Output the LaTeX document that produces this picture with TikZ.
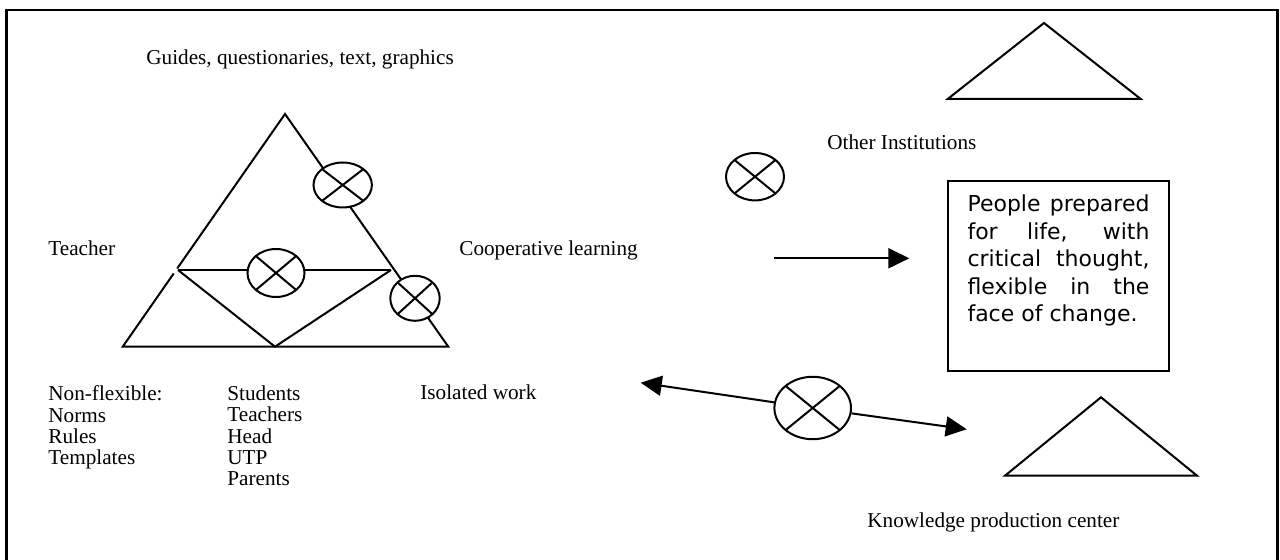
\documentclass[tikz,border=0pt]{standalone}
\usepackage{fontspec}
\setmainfont{Liberation Serif}
\newfontfamily\boxfont{DejaVu Sans}
\usetikzlibrary{arrows.meta,shapes.geometric}
\begin{document}
\begin{tikzpicture}[x=0.5pt,y=-0.5pt,
  lbl/.style={font=\fontsize{10.6}{10.75}\selectfont, inner sep=0pt, anchor=base west},
  lst/.style={font=\fontsize{10.6}{10.6}\selectfont, inner sep=0pt, anchor=north west, align=left},
  shapeline/.style={line width=1pt, line join=miter},
  xcirc/.style={ellipse, draw, fill=white, inner sep=0pt, line width=1pt,
    path picture={\draw[line width=1pt] (path picture bounding box.south west) -- (path picture bounding box.north east)
      (path picture bounding box.north west) -- (path picture bounding box.south east);}},
  tip/.style={-{Triangle[length=10.5pt,width=10pt]}, line width=1pt}]
\useasboundingbox (0,0) rectangle (1280,560);
% frame (open at the bottom)
\draw[line width=1.4pt] (6.5,575) -- (6.5,10) -- (1277.5,10) -- (1277.5,575);

% labels
\node[lbl] (guides) at (146,65) {Guides, questionaries, text, graphics};
\node[lbl] (other) at (827,150) {Other Institutions};
\node[lbl] (teacher) at (48,256) {Teacher};
\node[lbl] (coop) at (459,256) {Cooperative learning};
\node[lst] (nonflex) at (48,385.5) {Non-flexible:\\Norms\\Rules\\Templates};
\node[lst] (actors) at (227,385.5) {Students\\Teachers\\Head\\UTP\\Parents};
\node[lbl] (isolated) at (420,400) {Isolated work};
\node[lbl] (kpc) at (867,528) {Knowledge production center};

% big triangle
\draw[shapeline] (177.2,268.5) -- (285,114) -- (448.3,346.7) -- (122.7,346.7) -- (173.7,273.5);
\coordinate (hl) at (178,270);
\coordinate (hr) at (391,270);
\coordinate (bm) at (275,346.7);
\draw[shapeline] (hl) -- (hr);
\draw[shapeline] (hl) -- (bm) -- (hr);

% small triangles
\draw[shapeline] (947.7,99) -- (1044,23) -- (1140.7,99) -- cycle;
\draw[shapeline] (1005,475.7) -- (1101,397.3) -- (1197,475.7) -- cycle;

% crossed ellipses
\node[xcirc, minimum width=29.2pt, minimum height=22.5pt] (e1) at (342.7,185) {};
\node[xcirc, minimum width=24.7pt, minimum height=22.5pt] (e2) at (415,298.3) {};
\node[xcirc, minimum width=28.5pt, minimum height=24pt] (e3) at (276,273) {};
\node[xcirc, minimum width=29pt, minimum height=23.7pt] (e4) at (755,176.7) {};
\node[xcirc, minimum width=38.3pt, minimum height=31.2pt] (e5) at (812.7,408) {};

% goal box
\node[draw, line width=1pt, anchor=north west, inner xsep=9.75pt, inner ysep=7pt] (goal) at (947,180)
 {\parbox[t][81pt][t]{91pt}{\boxfont\fontsize{11}{13.75}\selectfont
  \makebox[\linewidth][s]{People prepared}\\
  \makebox[\linewidth][s]{for life, with}\\
  \makebox[\linewidth][s]{critical thought,}\\
  \makebox[\linewidth][s]{flexible in the}\\
  face of change.}};

% arrows
\coordinate (a1) at (774,258.3);
\coordinate (a2) at (909.3,258.3);
\draw[tip] (a1) -- (a2);
\coordinate (dl) at (640.7,382.7);
\coordinate (dr) at (966.7,429.3);
\draw[tip] (e5) -- (dl);
\draw[tip] (e5) -- (dr);
\end{tikzpicture}
\end{document}
